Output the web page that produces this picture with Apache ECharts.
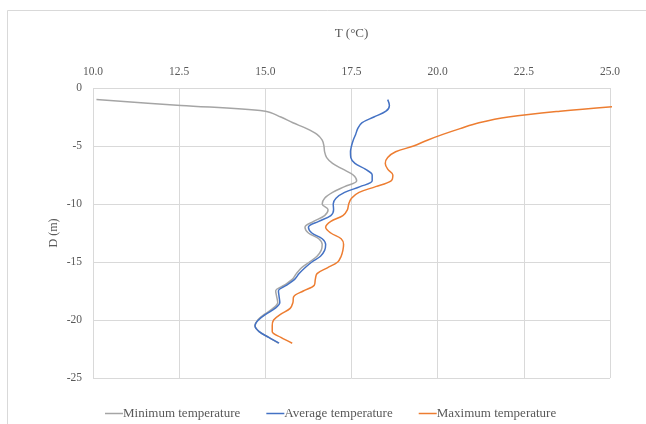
<!DOCTYPE html>
<html>
<head>
<meta charset="utf-8">
<script src="https://cdn.jsdelivr.net/npm/echarts@6/dist/echarts.min.js"></script>
<style>html,body{margin:0;padding:0;background:#fff}#c{width:646px;height:424px}</style>
</head>
<body>
<div id="c"></div>
<script>
const depths = [-1,-1.5,-2,-2.5,-3,-3.5,-4,-4.5,-5,-5.5,-6,-6.5,-7,-7.5,-8,-8.5,-9,-9.5,-10,-10.5,-11,-11.5,-12,-12.5,-13,-13.5,-14,-14.5,-15,-15.5,-16,-16.5,-17,-17.5,-18,-18.5,-19,-19.5,-20,-20.5,-21,-21.5,-22];
const minTemp = [10.1,12.55,15.0,15.45,15.8,16.2,16.5,16.65,16.7,16.72,16.78,16.95,17.25,17.55,17.65,17.3,16.95,16.72,16.65,16.82,16.72,16.4,16.15,16.25,16.55,16.65,16.62,16.5,16.28,16.05,15.9,15.78,15.55,15.3,15.33,15.36,15.22,14.98,14.78,14.7,14.82,15.1,15.38];
const avgTemp = [18.55,18.6,18.5,18.15,17.8,17.68,17.62,17.55,17.5,17.47,17.48,17.6,17.9,18.1,18.1,17.75,17.3,17.05,16.97,16.98,16.9,16.55,16.25,16.35,16.65,16.75,16.72,16.6,16.35,16.15,15.98,15.85,15.62,15.38,15.4,15.42,15.28,15.02,14.8,14.7,14.82,15.1,15.4];
const maxTemp = [null,25.5,23.55,22.05,21.2,20.65,20.15,19.7,19.3,18.78,18.55,18.48,18.55,18.7,18.65,18.2,17.72,17.5,17.42,17.38,17.25,16.9,16.75,16.9,17.2,17.27,17.25,17.2,17.1,16.8,16.5,16.45,16.42,16.1,15.82,15.8,15.72,15.45,15.24,15.2,15.2,15.45,15.78];
const seriesNames = ['Minimum temperature','Average temperature','Maximum temperature'];
const seriesColors = ['#A5A5A5','#4472C4','#ED7D31'];
const xTicks = {min:10, max:25, step:2.5};
const yTicks = {min:-25, max:0, step:5};

function pairs(temps){
  const out=[];
  temps.forEach((t,i)=>{ if(t!==null) out.push([t,depths[i]]); });
  return out;
}
const font = '"Liberation Serif","Times New Roman",serif';
const txt = '#595959';
const chart = echarts.init(document.getElementById('c'), null, {renderer:'canvas'});
chart.setOption({
  backgroundColor:'#fff',
  animation:false,
  graphic:[{type:'rect',shape:{x:7.5,y:10.5,width:700,height:500},style:{fill:'none',stroke:'#d9d9d9',lineWidth:1},silent:true,z:-10}],
  grid:{left:93,right:36,top:88,bottom:46,containLabel:false},
  legend:{
    top:402,left:100,
    icon:'rect',itemWidth:18,itemHeight:1.5,itemGap:26,
    textStyle:{fontFamily:font,fontSize:13,color:txt,padding:[0,0,0,-5]},
    data:seriesNames
  },
  xAxis:{
    type:'value',position:'top',min:xTicks.min,max:xTicks.max,interval:xTicks.step,
    name:'T (°C)',nameLocation:'middle',nameGap:48,
    nameTextStyle:{fontFamily:font,fontSize:13,color:txt},
    axisLine:{show:false},axisTick:{show:false},
    axisLabel:{fontFamily:font,fontSize:11.5,color:txt,margin:10,formatter:v=>v.toFixed(1)},
    splitLine:{show:true,lineStyle:{color:'#d9d9d9',width:1}}
  },
  yAxis:{
    type:'value',min:yTicks.min,max:yTicks.max,interval:yTicks.step,
    name:'D (m)',nameLocation:'middle',nameGap:33,nameMoveOverlap:false,
    nameTextStyle:{fontFamily:font,fontSize:12,color:txt},
    axisLine:{show:false},axisTick:{show:false},
    axisLabel:{fontFamily:font,fontSize:11.5,color:txt,margin:11},
    splitLine:{show:true,lineStyle:{color:'#d9d9d9',width:1}}
  },
  series:[minTemp,avgTemp,maxTemp].map((arr,i)=>({
    name:seriesNames[i],type:'line',data:pairs(arr),
    showSymbol:false,symbol:'none',smooth:0.35,clip:true,
    lineStyle:{color:seriesColors[i],width:1.5},
    itemStyle:{color:seriesColors[i]}
  }))
});
</script>
</body>
</html>
